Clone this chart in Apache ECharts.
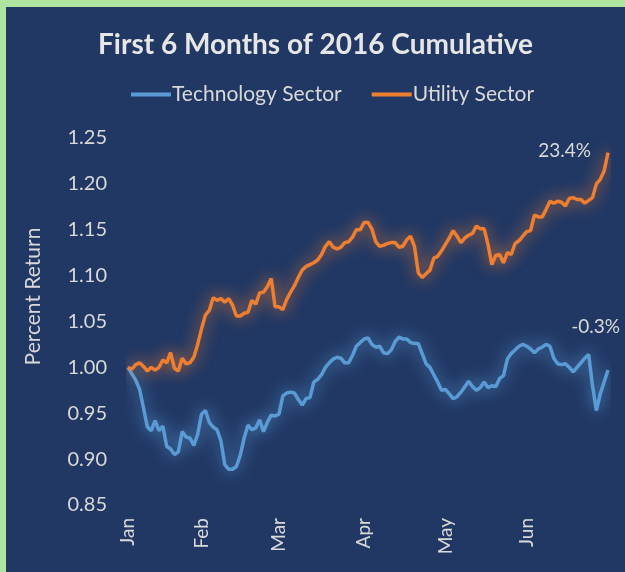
<!DOCTYPE html>
<html>
<head>
<meta charset="utf-8">
<script src="https://cdn.jsdelivr.net/npm/echarts@6/dist/echarts.min.js"></script>
<style>
  html, body { margin: 0; padding: 0; background: #aee3a0; }
  #chart { position: absolute; left: 6px; top: 7px; width: 619px; height: 565px; background: #213864; }
</style>
</head>
<body>
<div id="chart"></div>
<script>
// trading-day values, Jan 4 .. Jun 30 2016
const techSector = [
  1.000, 0.993, 0.986, 0.976, 0.956, 0.935, 0.931, 0.942, 0.931, 0.936,
  0.914, 0.911, 0.905, 0.908, 0.930, 0.924, 0.923, 0.915, 0.927, 0.949,
  0.953, 0.940, 0.935, 0.932, 0.920, 0.894, 0.889, 0.889, 0.892, 0.904,
  0.923, 0.937, 0.932, 0.934, 0.943, 0.930, 0.940, 0.948, 0.947, 0.949,
  0.969, 0.972, 0.973, 0.972, 0.965, 0.959, 0.966, 0.967, 0.984, 0.987,
  0.992, 1.000, 1.005, 1.009, 1.011, 1.010, 1.005, 1.005, 1.013, 1.023,
  1.027, 1.031, 1.032, 1.025, 1.022, 1.023, 1.016, 1.015, 1.019, 1.028,
  1.033, 1.031, 1.031, 1.027, 1.026, 1.026, 1.015, 1.004, 1.000, 0.992,
  0.984, 0.975, 0.976, 0.971, 0.966, 0.968, 0.973, 0.979, 0.985, 0.979,
  0.975, 0.978, 0.984, 0.978, 0.980, 0.979, 0.988, 0.991, 1.009, 1.015,
  1.019, 1.023, 1.025, 1.023, 1.020, 1.016, 1.020, 1.022, 1.025, 1.023,
  1.010, 1.004, 1.003, 1.004, 1.000, 0.995, 1.000, 1.005, 1.010, 1.014,
  0.980, 0.953, 0.971, 0.984, 0.997
]
const utilitySector = [
  1.000, 0.998, 1.003, 1.005, 1.001, 0.996, 1.000, 0.997, 1.000, 1.008,
  1.005, 1.016, 0.999, 0.996, 1.010, 1.004, 1.005, 1.011, 1.025, 1.042,
  1.057, 1.062, 1.076, 1.073, 1.075, 1.071, 1.075, 1.068, 1.056, 1.056,
  1.059, 1.060, 1.073, 1.069, 1.081, 1.082, 1.088, 1.097, 1.066, 1.066,
  1.063, 1.074, 1.082, 1.089, 1.098, 1.106, 1.110, 1.112, 1.114, 1.117,
  1.123, 1.132, 1.137, 1.131, 1.129, 1.131, 1.136, 1.137, 1.142, 1.150,
  1.150, 1.158, 1.158, 1.151, 1.137, 1.132, 1.133, 1.135, 1.136, 1.136,
  1.131, 1.132, 1.139, 1.143, 1.132, 1.103, 1.098, 1.102, 1.106, 1.119,
  1.121, 1.127, 1.134, 1.141, 1.149, 1.143, 1.136, 1.141, 1.144, 1.146,
  1.154, 1.151, 1.151, 1.134, 1.112, 1.122, 1.123, 1.114, 1.125, 1.123,
  1.135, 1.138, 1.143, 1.148, 1.149, 1.166, 1.164, 1.164, 1.172, 1.181,
  1.179, 1.181, 1.180, 1.176, 1.184, 1.185, 1.183, 1.183, 1.179, 1.182,
  1.185, 1.200, 1.205, 1.214, 1.234
]
// month labels and the trading-day index where each month starts
const monthLabels = ['Jan', 'Feb', 'Mar', 'Apr', 'May', 'Jun']
const monthStart = [0, 19, 39, 61, 82, 103]
const yTicks = { min: 0.85, max: 1.25, interval: 0.05 }

const days = techSector.map((_, i) => i)
const font = 'Lato, "Open Sans", sans-serif'
const textColor = '#d9d9d9'
const last = techSector.length - 1
const pct = (arr) => ((arr[last] - 1) * 100).toFixed(1) + '%'

const myChart = echarts.init(document.getElementById('chart'))

const lineSeries = (name, values, color, endOffset) => ({
  name: name,
  type: 'line',
  data: values,
  symbol: 'none',
  lineStyle: { width: 3.5, color: color, shadowBlur: 16, shadowColor: color },
  itemStyle: { color: color },
  emphasis: { disabled: true },
  endLabel: {
    show: true,
    formatter: () => pct(values),
    align: 'right',
    offset: endOffset,
    color: textColor,
    fontSize: 19,
    fontFamily: font
  },
  z: name === 'Utility Sector' ? 3 : 2
})

myChart.setOption({
  animation: false,
  title: {
    text: 'First 6 Months of 2016 Cumulative',
    left: 'center',
    top: 19,
    textStyle: { color: '#e6e6e6', fontSize: 28, fontWeight: 'bold', fontFamily: font }
  },
  legend: {
    top: 72,
    left: 120,
    itemWidth: 40,
    itemHeight: 4,
    itemGap: 30,
    icon: 'rect',
    textStyle: { color: textColor, fontSize: 21, fontFamily: font, padding: [0, 0, 0, -4] },
    data: ['Technology Sector', 'Utility Sector']
  },
  grid: { left: 122, right: 17, top: 131, bottom: 67 },
  xAxis: {
    type: 'category',
    data: days,
    boundaryGap: false,
    axisLine: { show: false },
    axisTick: { show: false },
    axisLabel: {
      interval: (idx) => monthStart.includes(idx),
      formatter: (v) => monthLabels[monthStart.indexOf(Number(v))],
      rotate: 90,
      margin: 13,
      color: textColor,
      fontSize: 19,
      fontFamily: font
    }
  },
  yAxis: {
    type: 'value',
    min: yTicks.min,
    max: yTicks.max,
    interval: yTicks.interval,
    name: 'Percent Return',
    nameLocation: 'middle',
    nameGap: 84,
    nameTextStyle: { color: textColor, fontSize: 21, fontFamily: font, padding: [0, 0, 0, 50] },
    splitLine: { show: false },
    axisLine: { show: false },
    axisTick: { show: false },
    axisLabel: {
      formatter: (v) => v.toFixed(2),
      margin: 21,
      color: textColor,
      fontSize: 20,
      fontFamily: font
    }
  },
  series: [
    lineSeries('Technology Sector', techSector, '#5b9bd5', [4, -43]),
    lineSeries('Utility Sector', utilitySector, '#ef7f30', [-25, -2])
  ]
})
</script>
</body>
</html>
